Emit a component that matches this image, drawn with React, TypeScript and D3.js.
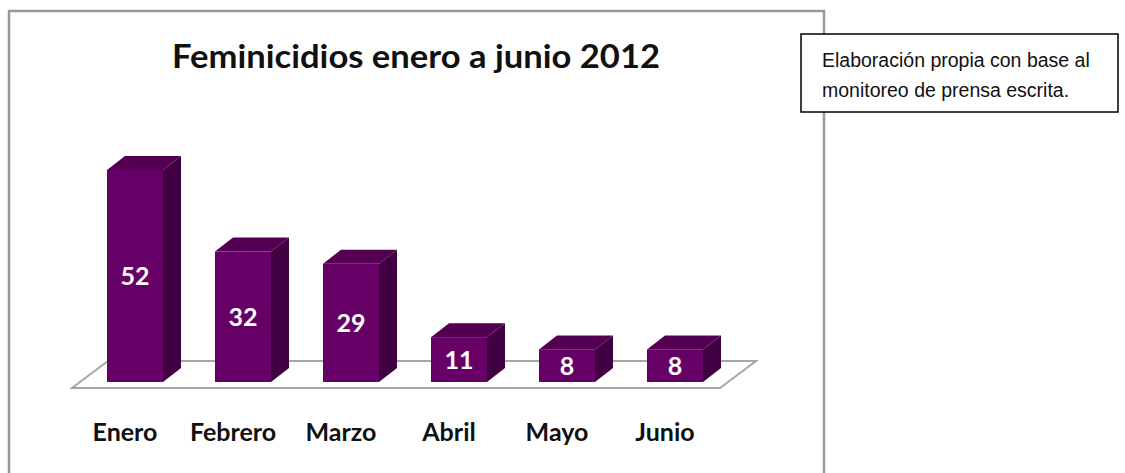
import React from "react";
import * as d3 from "d3";

const months = ["Enero", "Febrero", "Marzo", "Abril", "Mayo", "Junio"];
const values = [52, 32, 29, 11, 8, 8];
const title = "Feminicidios enero a junio 2012";
const noteLines = ["Elaboración propia con base al", "monitoreo de prensa escrita."];

export default function App() {
  const W = 1125, H = 473;
  const floorFront = 388;
  const floorDx = 36, floorDy = -27;
  const x = d3.scaleBand<string>().domain(months).range([72, 720]).paddingInner(0);
  const step = x.step();
  const barW = 56;
  const y = d3.scaleLinear().domain([0, 52]).range([382, 170]);
  const dx = 18, dy = -14;
  const front = "#660066", top = "#530052", side = "#410041";

  return (
    <svg width={W} height={H} style={{ position: "absolute", left: 0, top: 0, background: "#fff" }}>
      <path d={`M9,${H + 5} L9,11 L824,11 L824,${H + 5}`} fill="none" stroke="#999" strokeWidth={2.5} />
      <text x={172} y={68} textLength={488} lengthAdjust="spacingAndGlyphs" fontFamily="Lato, 'Open Sans', sans-serif" fontWeight={700} fontSize={33} fill="#111">
        {title}
      </text>
      <path
        d={`M72,${floorFront} L720,${floorFront} L${720 + floorDx},${floorFront + floorDy} L${72 + floorDx},${floorFront + floorDy} Z`}
        fill="#fff"
        stroke="#a6a6a6"
        strokeWidth={2}
      />
      {months.map((m, i) => {
        const x0 = (x(m) as number) + (step - barW) / 2 + 9;
        const x1 = x0 + barW;
        const yb = y(0);
        const yt = y(values[i]);
        return (
          <g key={m}>
            <path d={`M${x1},${yt} L${x1 + dx},${yt + dy} L${x1 + dx},${yb + dy} L${x1},${yb} Z`} fill={side} />
            <path d={`M${x0},${yt} L${x0 + dx},${yt + dy} L${x1 + dx},${yt + dy} L${x1},${yt} Z`} fill={top} />
            <rect x={x0} y={yt} width={barW} height={yb - yt} fill={front} />
            <text
              x={x0 + barW / 2}
              y={(yt + yb) / 2 + 9}
              textAnchor="middle"
              fontFamily="Lato, 'Open Sans', sans-serif"
              fontWeight={700}
              fontSize={25}
              fill="#fff"
            >
              {values[i]}
            </text>
            <text
              x={(x(m) as number) + step / 2 - 1}
              y={441}
              textAnchor="middle"
              fontFamily="Lato, 'Open Sans', sans-serif"
              fontWeight={700}
              fontSize={25}
              fill="#111"
            >
              {m}
            </text>
          </g>
        );
      })}
      <rect x={801} y={34} width={317} height={78} fill="#fff" stroke="#000" strokeWidth={1.5} />
      {noteLines.map((l, i) => (
        <text key={i} x={822} y={67 + i * 30} fontFamily="'Liberation Sans', Arial, sans-serif" fontSize={19.5} fill="#111">
          {l}
        </text>
      ))}
    </svg>
  );
}
